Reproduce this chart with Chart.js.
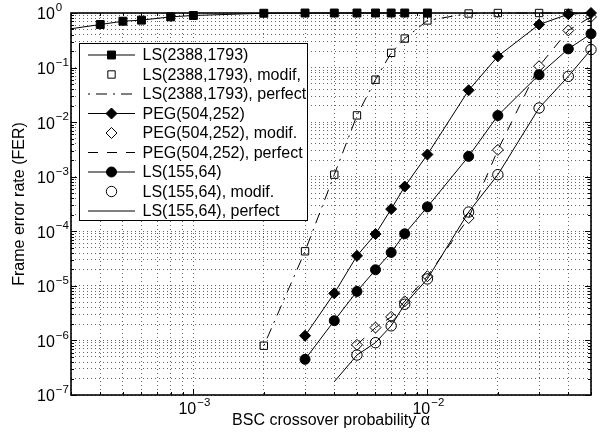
<!DOCTYPE html>
<html>
<head>
<meta charset="utf-8">
<script src="https://cdn.jsdelivr.net/npm/chart.js@4.4.0/dist/chart.umd.min.js"></script>
<style>
  html, body { margin: 0; padding: 0; background: #fff; }
  #wrap { width: 603px; height: 437px; position: relative; }
</style>
</head>
<body>
<div id="wrap"><canvas id="fer"></canvas></div>
<script>
// axes limits (log-log)
const X_MIN = 3e-4, X_MAX = 5e-2;
const Y_MIN = 1e-7, Y_MAX = 1;
const xTickExps = [-3, -2];
const yTickExps = [0, -1, -2, -3, -4, -5, -6, -7];

// LS(2388,1793)
const alphaLS2388 = [2e-4, 4e-4, 5e-4, 6e-4, 8e-4, 1e-3, 2e-3, 3e-3, 4e-3, 5e-3, 6e-3, 7e-3, 8e-3, 1e-2];
const ferLS2388   = [0.40, 0.615, 0.707, 0.74, 0.85, 0.90, 0.99, 1, 1, 1, 1, 1, 1, 1];
const alphaLS2388Mod = [2e-3, 3e-3, 4e-3, 5e-3, 6e-3, 7e-3, 8e-3, 1e-2, 1.5e-2, 2e-2, 3e-2, 4e-2];
const ferLS2388Mod   = [8.0e-7, 4.3e-5, 1.09e-3, 1.33e-2, 0.06, 0.186, 0.34, 0.73, 0.98, 1, 1, 1];
const alphaLS2388Perf = [2e-3, 3e-3, 4e-3, 5e-3, 6e-3, 7e-3, 8e-3, 1e-2, 1.5e-2, 2e-2, 3e-2, 4e-2, 5e-2];
const ferLS2388Perf   = [8.0e-7, 4.3e-5, 1.09e-3, 1.33e-2, 0.06, 0.186, 0.34, 0.73, 0.98, 1, 1, 1, 1];

// PEG(504,252)
const alphaPEG = [3e-3, 4e-3, 5e-3, 6e-3, 7e-3, 8e-3, 1e-2, 1.5e-2, 2e-2, 3e-2, 4e-2, 5e-2];
const ferPEG   = [1.22e-6, 7.3e-6, 3.55e-5, 8.9e-5, 2.55e-4, 6.6e-4, 2.55e-3, 3.84e-2, 0.161, 0.615, 0.95, 1.0];
const alphaPEGMod = [5e-3, 6e-3, 7e-3, 8e-3, 1e-2, 1.5e-2, 2e-2, 3e-2, 4e-2, 5e-2];
const ferPEGMod   = [8.3e-7, 1.72e-6, 2.7e-6, 5.2e-6, 1.5e-5, 1.75e-4, 3.1e-3, 0.106, 0.48, 0.85];
const ferPEGPerf  = [8.3e-7, 1.72e-6, 2.7e-6, 5.2e-6, 1.5e-5, 1.75e-4, 3.1e-3, 0.106, 0.48, 0.85];

// LS(155,64)
const alphaLS155 = [3e-3, 4e-3, 5e-3, 6e-3, 7e-3, 8e-3, 1e-2, 1.5e-2, 2e-2, 3e-2, 4e-2, 5e-2];
const ferLS155   = [4.5e-7, 2.3e-6, 7.9e-6, 1.97e-5, 4.1e-5, 9.0e-5, 2.8e-4, 2.36e-3, 1.32e-2, 7.4e-2, 0.22, 0.415];
const alphaLS155Mod = [5e-3, 6e-3, 7e-3, 8e-3, 1e-2, 1.5e-2, 2e-2, 3e-2, 4e-2, 5e-2];
const ferLS155Mod   = [5.4e-7, 9.1e-7, 1.85e-6, 4.6e-6, 1.34e-5, 2.25e-4, 1.09e-3, 1.82e-2, 6.9e-2, 0.214];
const alphaLS155Perf = [4e-3, 5e-3, 6e-3, 7e-3, 8e-3, 1e-2, 1.5e-2, 2e-2, 3e-2, 4e-2, 5e-2];
const ferLS155Perf   = [1.75e-7, 5.4e-7, 9.1e-7, 1.85e-6, 4.6e-6, 1.34e-5, 2.25e-4, 1.09e-3, 1.82e-2, 6.9e-2, 0.214];

const FONT = '"Liberation Sans", Arial, Helvetica, sans-serif';
const NONE = 'rgba(0,0,0,0)';

const pts = (xs, ys) => xs.map((x, i) => ({ x, y: ys[i] }));

function logTicks(min, max) {
  const out = [];
  for (let e = Math.floor(Math.log10(min)); e <= Math.ceil(Math.log10(max)); e++) {
    for (let m = 1; m <= 9; m++) {
      const v = parseFloat(m + 'e' + e);
      if (v >= min * 0.999 && v <= max * 1.001) out.push({ value: v });
    }
  }
  return out;
}
const isDecade = v => Math.abs(Math.log10(v) - Math.round(Math.log10(v))) < 1e-6;

function marker(label, data, style, r, filled) {
  return { label, data, showLine: false, borderColor: '#000', borderWidth: 1,
    pointStyle: style, pointRadius: r, pointHoverRadius: r,
    pointBackgroundColor: filled ? '#000' : NONE, pointBorderColor: '#000', pointBorderWidth: 1 };
}
function solidMarker(label, data, style, r) {
  const d = marker(label, data, style, r, true);
  d.showLine = true;
  return d;
}
function curve(label, data, dash, offset) {
  return { label, data, showLine: true, borderColor: '#000', borderWidth: 1, borderDash: dash,
    borderDashOffset: offset || 0, pointRadius: 0, pointHoverRadius: 0 };
}

const datasets = [
  solidMarker('LS(2388,1793)', pts(alphaLS2388, ferLS2388), 'rect', 5.6),
  marker('LS(2388,1793), modif,', pts(alphaLS2388Mod, ferLS2388Mod), 'rect', 5.2, false),
  curve('LS(2388,1793), perfect', pts(alphaLS2388Perf, ferLS2388Perf), [11, 6, 2, 6], 17),
  solidMarker('PEG(504,252)', pts(alphaPEG, ferPEG), 'rectRot', 5.5),
  marker('PEG(504,252), modif.', pts(alphaPEGMod, ferPEGMod), 'rectRot', 5.5, false),
  curve('PEG(504,252), perfect', pts(alphaPEGMod, ferPEGPerf), [10, 9]),
  solidMarker('LS(155,64)', pts(alphaLS155, ferLS155), 'circle', 5),
  marker('LS(155,64), modif.', pts(alphaLS155Mod, ferLS155Mod), 'circle', 5.2, false),
  curve('LS(155,64), perfect', pts(alphaLS155Perf, ferLS155Perf), [])
];
datasets.forEach(d => { d.clip = { left: 0, top: 8, right: 8, bottom: 0 }; d.tension = 0; });

function drawMarker(ctx, style, r, x, y, filled) {
  ctx.beginPath();
  if (style === 'rect') {
    const s = r * Math.SQRT1_2;
    ctx.rect(x - s, y - s, 2 * s, 2 * s);
  } else if (style === 'rectRot') {
    ctx.moveTo(x, y - r); ctx.lineTo(x + r, y); ctx.lineTo(x, y + r); ctx.lineTo(x - r, y); ctx.closePath();
  } else {
    ctx.arc(x, y, r, 0, 2 * Math.PI);
  }
  if (filled) ctx.fill();
  ctx.stroke();
}

function powLabel(ctx, exp, x, y, align) {
  const base = '10', sup = exp < 0 ? '\u2212' + Math.abs(exp) : String(exp);
  ctx.font = '16px ' + FONT;
  const wb = ctx.measureText(base).width;
  ctx.font = '11.5px ' + FONT;
  const ws = ctx.measureText(sup).width;
  let x0 = align === 'center' ? x - (wb + ws + 1) / 2 : x;
  ctx.textAlign = 'left';
  ctx.textBaseline = 'middle';
  ctx.font = '16px ' + FONT;
  ctx.fillText(base, x0, y);
  ctx.font = '11.5px ' + FONT;
  ctx.fillText(sup, x0 + wb + 1, y - 7);
}

const matlabAxes = {
  id: 'matlabAxes',
  afterDatasetsDraw(chart) {
    const { ctx, chartArea: a, scales: { x, y } } = chart;
    ctx.save();
    ctx.strokeStyle = '#000';
    ctx.lineWidth = 1;
    ctx.beginPath();
    x.ticks.forEach(t => {
      const px = Math.round(x.getPixelForValue(t.value)) + 0.5;
      const len = isDecade(t.value) ? 6 : 3;
      ctx.moveTo(px, a.bottom); ctx.lineTo(px, a.bottom - len);
      ctx.moveTo(px, a.top); ctx.lineTo(px, a.top + len);
    });
    y.ticks.forEach(t => {
      const py = Math.round(y.getPixelForValue(t.value)) + 0.5;
      const len = isDecade(t.value) ? 6 : 3;
      ctx.moveTo(a.left, py); ctx.lineTo(a.left + len, py);
      ctx.moveTo(a.right, py); ctx.lineTo(a.right - len, py);
    });
    ctx.stroke();

    // legend box
    const bx = 79, by = 43, bw = 228, bh = 177;
    ctx.fillStyle = '#fff';
    ctx.fillRect(bx, by, bw, bh);
    ctx.lineWidth = 1;
    ctx.strokeRect(bx + 0.5, by + 0.5, bw, bh);
    chart.data.datasets.forEach((d, i) => {
      const ry = 55 + i * 19.5;
      ctx.save();
      if (d.showLine) {
        ctx.setLineDash(d.borderDash || []);
        ctx.lineDashOffset = d.borderDashOffset || 0;
        ctx.beginPath();
        ctx.moveTo(88, ry); ctx.lineTo(135, ry);
        ctx.stroke();
      }
      ctx.setLineDash([]);
      if (d.pointRadius > 0) {
        ctx.fillStyle = d.pointBackgroundColor;
        drawMarker(ctx, d.pointStyle, d.pointRadius, 111.5, ry, d.pointBackgroundColor !== NONE);
      }
      ctx.restore();
      ctx.fillStyle = '#000';
      ctx.font = '16px ' + FONT;
      ctx.textAlign = 'left';
      ctx.textBaseline = 'middle';
      ctx.fillText(d.label, 142.5, ry + 1);
    });

    // frame
    ctx.lineWidth = 1.6;
    ctx.strokeRect(a.left, a.top, a.right - a.left, a.bottom - a.top);

    // tick labels
    ctx.fillStyle = '#000';
    xTickExps.forEach(e => powLabel(ctx, e, x.getPixelForValue(Math.pow(10, e)) + 1, a.bottom + 15, 'center'));
    yTickExps.forEach(e => powLabel(ctx, e, 37, y.getPixelForValue(Math.pow(10, e)) + 2, 'left'));

    // axis titles
    ctx.font = '16px ' + FONT;
    ctx.textAlign = 'center';
    ctx.textBaseline = 'middle';
    ctx.fillText('BSC crossover probability \u03b1', (a.left + a.right) / 2, 421);
    ctx.translate(20, (a.top + a.bottom) / 2);
    ctx.rotate(-Math.PI / 2);
    ctx.fillText('Frame error rate (FER)', 0, 0);
    ctx.restore();
  }
};

const gridOpts = { color: 'rgba(0,0,0,0.6)', lineWidth: 1, drawTicks: false };

new Chart(document.getElementById('fer'), {
  type: 'line',
  data: { datasets },
  options: {
    responsive: true,
    maintainAspectRatio: false,
    animation: false,
    events: [],
    layout: { padding: { top: 13, right: 12, left: 0, bottom: 0 } },
    plugins: { legend: { display: false }, tooltip: { enabled: false } },
    scales: {
      x: {
        type: 'logarithmic', min: X_MIN, max: X_MAX,
        ticks: { display: false },
        grid: gridOpts,
        border: { display: false, dash: [1, 3] },
        afterBuildTicks: s => { s.ticks = logTicks(X_MIN, X_MAX); },
        afterFit: s => { s.height = 42; }
      },
      y: {
        type: 'logarithmic', min: Y_MIN, max: Y_MAX,
        ticks: { display: false },
        grid: gridOpts,
        border: { display: false, dash: [1, 3] },
        afterBuildTicks: s => { s.ticks = logTicks(Y_MIN, Y_MAX); },
        afterFit: s => { s.width = 71; }
      }
    }
  },
  plugins: [matlabAxes]
});
</script>
</body>
</html>
